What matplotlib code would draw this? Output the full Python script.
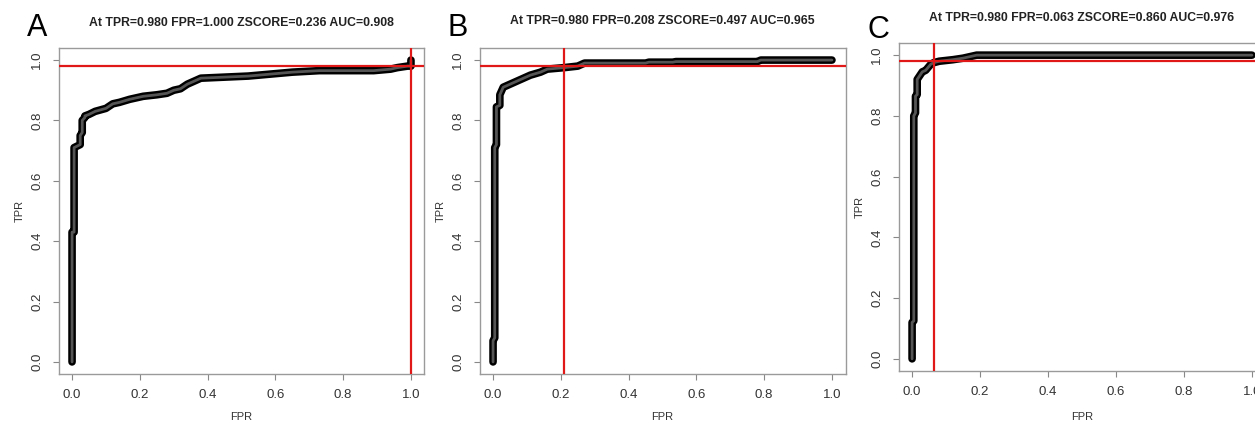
import matplotlib
matplotlib.use("Agg")
import matplotlib.pyplot as plt

# ---- data ----
panel_letters = ["A", "B", "C"]
titles = [
    "At TPR=0.980 FPR=1.000 ZSCORE=0.236 AUC=0.908",
    "At TPR=0.980 FPR=0.208 ZSCORE=0.497 AUC=0.965",
    "At TPR=0.980 FPR=0.063 ZSCORE=0.860 AUC=0.976",
]
cut_tpr = [0.98, 0.98, 0.98]
cut_fpr = [1.000, 0.208, 0.063]

fpr_a = [0.0, 0.0, 0.006, 0.006, 0.024, 0.024, 0.03, 0.03, 0.038, 0.038, 0.05, 0.068, 0.10,
         0.12, 0.14, 0.17, 0.21, 0.25, 0.28, 0.30, 0.32, 0.34, 0.36, 0.38, 0.46, 0.52, 0.55,
         0.62, 0.65, 0.73, 0.89, 0.94, 0.96, 0.99, 1.0, 1.0]
tpr_a = [0.0, 0.43, 0.43, 0.71, 0.72, 0.75, 0.76, 0.80, 0.81, 0.815, 0.82, 0.83, 0.84,
         0.855, 0.86, 0.87, 0.88, 0.885, 0.89, 0.90, 0.905, 0.92, 0.93, 0.94, 0.944, 0.947, 0.95,
         0.957, 0.96, 0.965, 0.965, 0.97, 0.975, 0.98, 0.98, 1.0]

fpr_b = [0.0, 0.0, 0.005, 0.005, 0.01, 0.01, 0.02, 0.02, 0.03, 0.05, 0.08, 0.11, 0.14,
         0.16, 0.21, 0.25, 0.27, 0.45, 0.46, 0.53, 0.54, 0.78, 0.79, 1.0]
tpr_b = [0.0, 0.07, 0.08, 0.71, 0.72, 0.845, 0.85, 0.885, 0.91, 0.92, 0.935, 0.95, 0.96,
         0.97, 0.975, 0.98, 0.99, 0.99, 0.993, 0.993, 0.995, 0.995, 1.0, 1.0]

fpr_c = [0.0, 0.0, 0.005, 0.005, 0.01, 0.01, 0.015, 0.015, 0.03, 0.04, 0.055, 0.063, 0.08,
         0.12, 0.15, 0.17, 0.19, 1.0]
tpr_c = [0.0, 0.12, 0.125, 0.80, 0.81, 0.865, 0.87, 0.92, 0.945, 0.95, 0.97, 0.975, 0.98,
         0.985, 0.99, 0.995, 1.0, 1.0]

curves = [(fpr_a, tpr_a), (fpr_b, tpr_b), (fpr_c, tpr_c)]
tick_vals = [0.0, 0.2, 0.4, 0.6, 0.8, 1.0]
tick_labels = ["0.0", "0.2", "0.4", "0.6", "0.8", "1.0"]

# ---- layout (pixels) ----
W, H = 1255, 422
plt.rcParams["font.family"] = ["Liberation Sans", "DejaVu Sans"]
fig = plt.figure(figsize=(W / 100, H / 100), dpi=100)

boxes = [  # left, top, width, height in px
    (58.5, 48, 366, 326),
    (479.5, 48, 366, 326),
    (898.5, 43, 367, 328),
]
letter_pos = [(37, 28), (458, 28), (878, 30)]
title_y = [23, 21, 18]
xlabel_pad = [8, 8, 10]

txt_col = "#333333"
for i, (l, t, w, h) in enumerate(boxes):
    ax = fig.add_axes([l / W, 1 - (t + h) / H, w / W, h / H])
    x, y = curves[i]
    ax.plot(x, y, color="black", lw=5.5, solid_joinstyle="round", solid_capstyle="round", zorder=3)
    ax.plot(x, y, color="#555555", lw=2.0, solid_joinstyle="round", solid_capstyle="round", zorder=4)
    ax.axhline(cut_tpr[i], color="#e01818", lw=1.6, zorder=5)
    ax.axvline(cut_fpr[i], color="#e01818", lw=1.6, zorder=5)
    ax.set_xlim(-0.04, 1.04)
    ax.set_ylim(-0.04, 1.04)
    ax.set_xticks(tick_vals)
    ax.set_xticklabels(tick_labels)
    ax.set_yticks(tick_vals)
    ax.set_yticklabels(tick_labels, rotation=90, va="center")
    ax.tick_params(axis="both", direction="out", length=4, width=0.8, color="#888888",
                   labelsize=9.5, labelcolor=txt_col)
    ax.tick_params(axis="x", pad=7)
    ax.tick_params(axis="y", pad=7)
    for s in ax.spines.values():
        s.set_color("#9a9a9a")
        s.set_linewidth(1.0)
    ax.set_xlabel("FPR", fontsize=8, color=txt_col, labelpad=xlabel_pad[i])
    ax.set_ylabel("TPR", fontsize=8, color=txt_col, labelpad=5)
    fig.text((l + w / 2) / W, 1 - title_y[i] / H, titles[i], ha="center", va="center",
             fontsize=8.8, fontweight="bold", color="#222222")
    lx, ly = letter_pos[i]
    fig.text(lx / W, 1 - ly / H, panel_letters[i], ha="center", va="center",
             fontsize=22, color="black")

fig.savefig("out.png", dpi=100, facecolor="white")
